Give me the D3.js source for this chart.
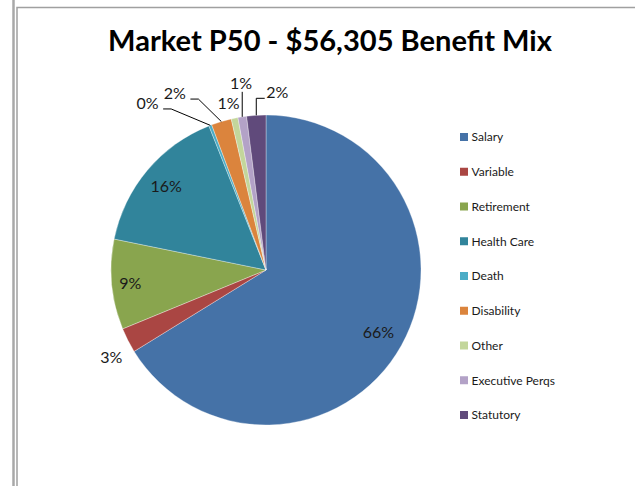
<!DOCTYPE html>
<html>
<head>
<meta charset="utf-8">
<script src="https://cdn.jsdelivr.net/npm/d3@7"></script>
<style>
  body { margin: 0; background: #ffffff; }
  svg { display: block; }
</style>
</head>
<body>
<script>
// Benefit mix categories and their share of total compensation (%)
const categories = ["Salary", "Variable", "Retirement", "Health Care", "Death",
                    "Disability", "Other", "Executive Perqs", "Statutory"];
const shares = [66.2, 2.6, 9.4, 15.8, 0.3, 2.1, 0.7, 0.9, 2.0];
const sliceColors = ["#4572A7", "#AA4643", "#89A54E", "#31849B", "#4BACC6",
                     "#DB843D", "#C3D69B", "#B3A2C7", "#604A7B"];
const chartTitle = "Market P50 - $56,305 Benefit Mix";

const W = 635, H = 486;
const labelFont = "Lato, 'Liberation Sans', sans-serif";
const labelSize = 16;

const svg = d3.select("body").append("svg")
  .attr("width", W).attr("height", H);

// worksheet frame lines
svg.append("line")
  .attr("x1", 13.5).attr("x2", 13.5).attr("y1", 0).attr("y2", H)
  .attr("stroke", "#a8a8a8").attr("stroke-width", 2.5);
svg.append("path")
  .attr("d", `M17,${H} V7.5 H${W}`)
  .attr("fill", "none").attr("stroke", "#a0a0a0").attr("stroke-width", 1.5);

// title, sized to span its box
const title = svg.append("text")
  .attr("x", 330).attr("y", 51)
  .attr("text-anchor", "middle")
  .attr("font-family", labelFont)
  .attr("font-weight", "bold")
  .attr("font-size", 28)
  .attr("fill", "#000")
  .text(chartTitle);
const tw = title.node().getComputedTextLength();
title.attr("font-size", 28 * 444 / tw);

// pie
const cx = 266, cy = 270, radius = 155;
const data = categories.map((c, i) => ({ name: c, value: shares[i], color: sliceColors[i] }));
const total = d3.sum(shares);

const pie = d3.pie().sort(null).value(d => d.value);
const arcs = pie(data);
const arc = d3.arc().innerRadius(0).outerRadius(radius);

const g = svg.append("g").attr("transform", `translate(${cx},${cy})`);
g.selectAll("path.slice")
  .data(arcs)
  .join("path")
  .attr("class", "slice")
  .attr("d", arc)
  .attr("fill", d => d.data.color)
  .attr("stroke", "#ffffff")
  .attr("stroke-opacity", 0.55)
  .attr("stroke-width", 0.6);

const pct = d3.format(".0%");
const midAngle = d => (d.startAngle + d.endAngle) / 2;
const polar = (a, rr) => [rr * Math.sin(a), -rr * Math.cos(a)];

// labels placed inside the large slices
const insideRadius = { "Salary": 0.83, "Retirement": 0.88, "Health Care": 0.84 };
// labels pushed outside the thin slices, offset from the rim point
const outsidePlace = {
  "Variable":        { dx: -16.5, dy: 16.6, leader: null },
  "Death":           { dx: -62.7, dy: -22.4, leader: "left" },
  "Disability":      { dx: -46.5, dy: -28.5, leader: "left" },
  "Other":           { dx: -6,    dy: -15,   leader: null },
  "Executive Perqs": { dx: -1.3,  dy: -34,   leader: "up" },
  "Statutory":       { dx: 21,    dy: -23,   leader: "right" }
};

const labelG = g.append("g");
const addLabel = (x, y, txt) => labelG.append("text")
  .attr("x", x).attr("y", y).attr("dy", "0.36em")
  .attr("text-anchor", "middle")
  .attr("font-family", labelFont).attr("font-size", labelSize)
  .attr("fill", "#1a1a1a")
  .text(txt);

arcs.forEach(d => {
  const name = d.data.name;
  const a = midAngle(d);
  const txt = pct(d.data.value / total);
  if (insideRadius[name]) {
    const [x, y] = polar(a, radius * insideRadius[name]);
    addLabel(x, y, txt);
    return;
  }
  const [rx, ry] = polar(a, radius);
  const p = outsidePlace[name];
  const x = rx + p.dx, y = ry + p.dy;
  const t = addLabel(x, y, txt);
  const w = t.node().getComputedTextLength();
  let pts = null;
  if (p.leader === "left") {
    const ex = x + w / 2 + 4.5, ly = y + 6;
    pts = [[rx, ry], [ex + 8, ly], [ex, ly]];
  } else if (p.leader === "right") {
    const ex = x - w / 2 - 1.5, ly = y + 6;
    pts = [[rx, ry], [rx, ly], [ex, ly]];
  } else if (p.leader === "up") {
    pts = [[rx, ry], [rx, y + 9]];
  }
  if (pts) {
    labelG.append("path")
      .attr("d", d3.line()(pts))
      .attr("fill", "none")
      .attr("stroke", "#000")
      .attr("stroke-width", 1);
  }
});

// legend
const legend = svg.append("g").attr("transform", "translate(460,137)");
const rowGap = 34.75;
const items = legend.selectAll("g.item")
  .data(data)
  .join("g")
  .attr("class", "item")
  .attr("transform", (d, i) => `translate(0,${i * rowGap})`);
items.append("rect")
  .attr("x", 0).attr("y", -4).attr("width", 8).attr("height", 8)
  .attr("fill", d => d.color);
items.append("text")
  .attr("x", 11.5).attr("y", 0).attr("dy", "0.36em")
  .attr("font-family", labelFont).attr("font-size", 12)
  .attr("fill", "#1a1a1a")
  .text(d => d.name);
</script>
</body>
</html>
